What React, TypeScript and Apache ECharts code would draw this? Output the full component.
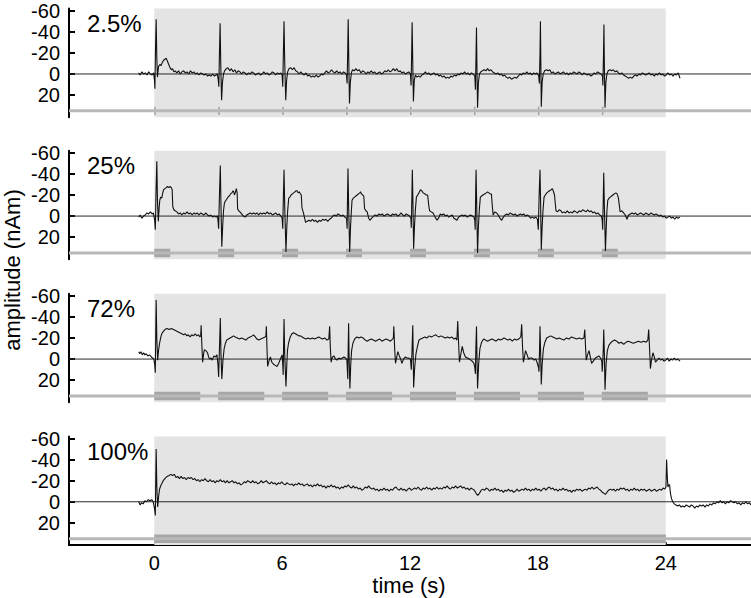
import React, { useEffect, useRef } from 'react';
import * as echarts from 'echarts';

// ---------- data ----------
const panelLabels = ['2.5%', '25%', '72%', '100%'];
const stimOnsets: number[][] = [
  [0, 3, 6, 9, 12, 15, 18, 21],
  [0, 3, 6, 9, 12, 15, 18, 21],
  [0, 3, 6, 9, 12, 15, 18, 21],
  [0],
];
const stimDurations = [0.075, 0.75, 2.16, 24];
const shadeWindow = [0, 24];
const yTickValues = [-60, -40, -20, 0, 20];
const xTickValues = [0, 6, 12, 18, 24];
const timeRange = [-4, 28];
const ampRange = [-62, 41];
const barLevel = 35;
const blockRange = [31, 39];

const trace2p5: [number, number][] = [
  [-0.74,-1],[-0.66,1],[-0.58,-2],[-0.5,0],[-0.42,-1],[-0.34,1],[-0.26,-2],[-0.18,0],[-0.1,1],[-0.03,-1],
  [0.01,6],[0.03,14],[0.06,-25],[0.09,-52],[0.12,-15],[0.15,3],[0.2,-7],[0.26,-9],[0.32,-8],[0.38,-11],[0.44,-13],[0.5,-14],[0.56,-15],[0.62,-12],[0.68,-9],[0.74,-6],[0.8,-4],[0.86,-5],[0.92,-2],[0.98,-3],[1.06,-1],[1.14,-3],[1.22,0],[1.3,-2],[1.38,-3],[1.46,-1],[1.54,-2],[1.62,0],[1.7,-3],[1.78,-1],[1.86,-2],[1.94,0],[2.02,-1],[2.1,1],[2.18,-1],[2.26,0],[2.34,1],[2.42,0],[2.5,2],[2.58,1],[2.66,2],[2.74,0],[2.82,2],[2.9,1],[2.96,0],
  [3.0,5],[3.03,12],[3.06,-20],[3.09,-48],[3.12,-10],[3.16,25],[3.2,8],[3.25,0],[3.3,-3],[3.38,-5],[3.46,-6],[3.54,-3],[3.62,-5],[3.7,-2],[3.78,-4],[3.86,-1],[3.94,-3],[4.02,-2],[4.1,0],[4.18,-2],[4.26,-1],[4.34,1],[4.42,-1],[4.5,0],[4.58,-2],[4.66,-1],[4.74,1],[4.82,0],[4.9,-1],[4.98,1],[5.06,0],[5.14,-2],[5.22,0],[5.3,-1],[5.38,1],[5.46,0],[5.54,-2],[5.62,-1],[5.7,1],[5.78,-1],[5.86,0],[5.94,-1],[6.0,1],
  [6.03,12],[6.06,-22],[6.09,-50],[6.12,-12],[6.17,25],[6.21,6],[6.26,-2],[6.32,-5],[6.4,-6],[6.48,-4],[6.56,-6],[6.64,-3],[6.72,-2],[6.8,0],[6.88,-2],[6.96,0],[7.04,1],[7.12,-1],[7.2,2],[7.28,1],[7.36,3],[7.44,2],[7.52,3],[7.6,1],[7.68,3],[7.76,2],[7.84,0],[7.92,1],[8.0,-1],[8.08,-3],[8.16,-1],[8.24,-2],[8.32,-4],[8.4,-2],[8.48,-1],[8.56,-3],[8.64,-1],[8.72,-2],[8.8,0],[8.88,-2],[8.96,-1],[9.02,1],
  [9.05,9],[9.08,-25],[9.1,-52],[9.13,-10],[9.16,28],[9.2,8],[9.25,-1],[9.3,-4],[9.38,-3],[9.46,-5],[9.54,-3],[9.62,-4],[9.7,-1],[9.78,-3],[9.86,-2],[9.94,0],[10.02,-2],[10.1,-1],[10.18,-3],[10.26,-1],[10.34,-2],[10.42,0],[10.5,-1],[10.58,-2],[10.66,0],[10.74,-1],[10.82,-3],[10.9,-2],[10.98,-4],[11.06,-2],[11.14,-3],[11.22,-5],[11.3,-3],[11.38,-5],[11.46,-2],[11.54,-3],[11.62,-1],[11.7,-2],[11.78,0],[11.86,-1],[11.94,-2],[12.02,0],
  [12.05,11],[12.08,-22],[12.1,-49],[12.13,-10],[12.16,26],[12.2,6],[12.25,1],[12.32,3],[12.4,2],[12.48,3],[12.56,1],[12.64,0],[12.72,-2],[12.8,0],[12.88,-1],[12.96,1],[13.04,0],[13.12,-1],[13.2,1],[13.28,0],[13.36,2],[13.44,1],[13.52,3],[13.6,2],[13.68,4],[13.76,3],[13.84,4],[13.92,2],[14.0,3],[14.08,1],[14.16,2],[14.24,0],[14.32,1],[14.4,-1],[14.48,0],[14.56,-2],[14.64,0],[14.72,-1],[14.8,1],[14.88,-1],[14.96,0],[15.04,2],
  [15.07,15],[15.1,-20],[15.12,-44],[15.14,-8],[15.17,32],[15.21,8],[15.26,0],[15.32,-2],[15.4,-3],[15.48,-4],[15.56,-3],[15.64,-5],[15.72,-3],[15.8,-4],[15.88,-2],[15.96,-1],[16.04,0],[16.12,-1],[16.2,1],[16.28,0],[16.36,2],[16.44,1],[16.52,3],[16.6,4],[16.68,3],[16.76,5],[16.84,4],[16.92,3],[17.0,4],[17.08,2],[17.16,0],[17.24,1],[17.32,-1],[17.4,0],[17.48,-2],[17.56,0],[17.64,-1],[17.72,1],[17.8,-1],[17.88,0],[17.96,-1],[18.04,2],
  [18.07,9],[18.1,-20],[18.12,-50],[18.14,-8],[18.16,31],[18.2,8],[18.25,0],[18.32,-3],[18.4,-4],[18.48,-3],[18.56,-4],[18.64,-1],[18.72,-2],[18.8,0],[18.88,-1],[18.96,-2],[19.04,0],[19.12,-1],[19.2,-2],[19.28,0],[19.36,-1],[19.44,1],[19.52,-1],[19.6,0],[19.68,-2],[19.76,-1],[19.84,0],[19.92,-2],[20.0,-1],[20.08,1],[20.16,-1],[20.24,0],[20.32,1],[20.4,0],[20.48,2],[20.56,1],[20.64,-1],[20.72,0],[20.8,-2],[20.88,-1],[20.96,0],[21.03,2],
  [21.05,11],[21.08,-20],[21.1,-47],[21.12,-8],[21.15,32],[21.19,8],[21.24,0],[21.3,-3],[21.38,-4],[21.46,-3],[21.54,-4],[21.62,-2],[21.7,-3],[21.78,-1],[21.86,0],[21.94,-1],[22.02,1],[22.1,2],[22.18,3],[22.26,4],[22.34,3],[22.42,4],[22.5,2],[22.58,1],[22.66,2],[22.74,0],[22.82,1],[22.9,-1],[22.98,0],[23.06,1],[23.14,0],[23.22,-1],[23.3,1],[23.38,0],[23.46,2],[23.54,0],[23.62,1],[23.7,-1],[23.78,1],[23.86,0],[23.94,2],[24.02,1],[24.1,-1],[24.18,1],[24.26,0],[24.34,2],[24.42,0],[24.5,1],[24.58,-1],[24.67,4],
];

const trace25: [number, number][] = [
  [-0.73,1],[-0.66,-1],[-0.58,2],[-0.5,0],[-0.42,-1],[-0.34,-3],[-0.26,-2],[-0.18,-4],[-0.1,-2],[-0.04,-3],
  [0.02,4],[0.05,13],[0.08,-20],[0.12,-52],[0.15,-15],[0.19,5],[0.23,-8],[0.26,-15],[0.3,-18],[0.35,-17],[0.4,-22],[0.44,-25],[0.5,-26],[0.56,-27],[0.62,-28],[0.68,-27],[0.74,-28],[0.8,-27],[0.84,-25],[0.87,-9],[0.92,-6],[0.98,-5],[1.06,-4],[1.14,-2],[1.22,-3],[1.3,-1],[1.38,-3],[1.46,-2],[1.54,-4],[1.62,-2],[1.7,-3],[1.78,-1],[1.86,-3],[1.94,-2],[2.02,-3],[2.1,-1],[2.18,-3],[2.26,-2],[2.34,-1],[2.42,-3],[2.5,-1],[2.58,0],[2.66,-1],[2.74,1],[2.82,0],[2.9,1],[2.97,0],
  [3.0,6],[3.02,12],[3.06,-20],[3.1,-48],[3.13,-10],[3.17,29],[3.21,10],[3.25,-5],[3.29,-12],[3.33,-14],[3.4,-16],[3.46,-18],[3.52,-19],[3.58,-21],[3.64,-22],[3.7,-24],[3.73,-23],[3.76,-20],[3.8,-22],[3.85,-26],[3.89,-22],[3.91,-7],[3.96,-5],[4.02,-4],[4.1,-2],[4.18,0],[4.27,1],[4.34,-1],[4.42,-2],[4.5,-3],[4.58,-2],[4.66,-3],[4.74,-2],[4.82,-3],[4.9,-1],[4.98,-3],[5.06,-2],[5.14,-3],[5.22,-2],[5.3,-4],[5.38,-2],[5.46,-3],[5.54,-1],[5.62,-2],[5.7,-3],[5.78,-1],[5.86,-2],[5.94,0],[6.0,2],
  [6.03,12],[6.06,-20],[6.09,-44],[6.12,-10],[6.18,34],[6.22,10],[6.26,-5],[6.31,-17],[6.36,-18],[6.42,-20],[6.48,-21],[6.54,-22],[6.6,-23],[6.66,-24],[6.7,-24],[6.75,-22],[6.8,-23],[6.86,-21],[6.9,-20],[6.93,-8],[7.0,-3],[7.1,6],[7.18,5],[7.26,4],[7.34,5],[7.42,3],[7.5,5],[7.58,4],[7.66,6],[7.74,4],[7.82,5],[7.9,3],[7.98,4],[8.06,3],[8.14,5],[8.22,3],[8.3,2],[8.38,0],[8.46,-1],[8.54,0],[8.62,-2],[8.7,-1],[8.78,0],[8.86,-1],[8.94,1],[9.02,2],
  [9.05,12],[9.07,-20],[9.09,-45],[9.12,-10],[9.17,34],[9.21,10],[9.25,-5],[9.28,-15],[9.34,-17],[9.4,-18],[9.46,-19],[9.52,-20],[9.58,-21],[9.64,-22],[9.68,-23],[9.72,-21],[9.78,-20],[9.83,-19],[9.87,-7],[9.93,-5],[9.99,-4],[10.06,2],[10.12,4],[10.2,2],[10.3,0],[10.38,-1],[10.46,0],[10.54,-2],[10.62,-1],[10.7,-2],[10.78,0],[10.86,-1],[10.94,-2],[11.02,-1],[11.1,0],[11.18,-2],[11.26,-1],[11.34,-2],[11.42,0],[11.5,-1],[11.58,-3],[11.66,-1],[11.74,0],[11.82,-2],[11.9,-1],[11.98,0],[12.04,2],
  [12.06,11],[12.09,-20],[12.11,-44],[12.14,-10],[12.17,31],[12.21,10],[12.25,-5],[12.3,-18],[12.36,-20],[12.42,-22],[12.49,-25],[12.55,-24],[12.62,-22],[12.7,-21],[12.76,-20],[12.83,-20],[12.88,-10],[12.92,-5],[13.0,-4],[13.08,-3],[13.18,1],[13.27,4],[13.34,2],[13.42,-2],[13.5,-1],[13.58,-2],[13.66,0],[13.74,-1],[13.82,1],[13.9,0],[13.98,-1],[14.06,2],[14.14,3],[14.2,4],[14.28,1],[14.36,0],[14.44,-1],[14.52,0],[14.6,-1],[14.68,1],[14.76,0],[14.84,-1],[14.92,0],[15.0,1],[15.04,4],
  [15.06,13],[15.08,-20],[15.1,-44],[15.13,-10],[15.17,35],[15.21,10],[15.25,-5],[15.3,-18],[15.36,-19],[15.42,-20],[15.5,-21],[15.58,-22],[15.64,-23],[15.7,-22],[15.76,-21],[15.82,-21],[15.86,-10],[15.9,-1],[15.98,-4],[16.06,-3],[16.14,-1],[16.22,2],[16.3,4],[16.38,1],[16.46,-1],[16.54,-2],[16.62,-1],[16.7,-3],[16.78,-2],[16.86,-1],[16.94,-2],[17.02,0],[17.1,-1],[17.18,-2],[17.26,-1],[17.34,-2],[17.42,0],[17.5,-1],[17.58,0],[17.66,2],[17.74,1],[17.82,2],[17.9,1],[17.98,3],
  [18.02,13],[18.06,-20],[18.1,-44],[18.13,-10],[18.16,32],[18.2,10],[18.24,-5],[18.29,-18],[18.35,-20],[18.42,-22],[18.48,-23],[18.55,-24],[18.62,-25],[18.68,-26],[18.72,-24],[18.78,-20],[18.85,-5],[18.92,-4],[19.0,-6],[19.08,-5],[19.15,-3],[19.22,-4],[19.3,-3],[19.38,-5],[19.46,-3],[19.54,-4],[19.62,-3],[19.7,-5],[19.78,-4],[19.86,-3],[19.94,-5],[20.02,-4],[20.1,-6],[20.18,-5],[20.26,-4],[20.34,-6],[20.42,-4],[20.5,-5],[20.58,-3],[20.66,-4],[20.74,-2],[20.82,-3],[20.9,-1],[20.98,0],[21.02,4],
  [21.04,13],[21.07,-18],[21.09,-41],[21.12,-10],[21.17,33],[21.21,10],[21.24,-5],[21.28,-15],[21.34,-17],[21.4,-18],[21.46,-19],[21.52,-20],[21.58,-21],[21.66,-22],[21.72,-21],[21.78,-17],[21.86,-4],[21.94,-5],[22.02,-3],[22.1,-1],[22.18,3],[22.26,-1],[22.34,-2],[22.42,-3],[22.5,-2],[22.58,-3],[22.66,-1],[22.74,-2],[22.82,-3],[22.9,-2],[22.98,-1],[23.06,-3],[23.14,-2],[23.22,-1],[23.3,-3],[23.38,-2],[23.46,-1],[23.54,-2],[23.62,-1],[23.7,0],[23.78,-1],[23.86,1],[23.94,0],[24.02,2],[24.1,1],[24.18,0],[24.26,2],[24.34,1],[24.42,3],[24.5,1],[24.58,2],[24.67,1],
];

const trace72: [number, number][] = [
  [-0.73,-7],[-0.68,-5],[-0.62,-7],[-0.56,-4],[-0.5,-6],[-0.44,-4],[-0.38,-5],[-0.3,-3],[-0.22,-4],[-0.14,-2],[-0.08,-1],[-0.02,0],
  [0.02,5],[0.05,13],[0.07,-25],[0.09,-56],[0.12,-20],[0.16,1],[0.2,-8],[0.25,-15],[0.3,-20],[0.35,-24],[0.42,-26],[0.5,-28],[0.6,-29],[0.7,-28],[0.8,-29],[0.9,-28],[1.0,-27],[1.1,-26],[1.2,-25],[1.29,-24],[1.38,-23],[1.46,-24],[1.53,-22],[1.6,-23],[1.68,-21],[1.76,-23],[1.84,-22],[1.92,-24],[2.0,-22],[2.08,-23],[2.14,-21],[2.18,-22],[2.2,-32],[2.23,-15],[2.27,3],[2.31,-4],[2.35,-9],[2.42,-8],[2.5,-6],[2.55,-2],[2.6,0],[2.66,-1],[2.72,1],[2.8,-3],[2.88,-2],[2.94,-4],
  [2.99,5],[3.02,17],[3.06,-10],[3.1,-39],[3.13,-5],[3.17,19],[3.22,2],[3.28,-10],[3.34,-15],[3.4,-18],[3.48,-19],[3.56,-20],[3.64,-21],[3.72,-22],[3.8,-21],[3.9,-20],[4.0,-19],[4.1,-20],[4.2,-19],[4.3,-18],[4.4,-20],[4.5,-21],[4.6,-22],[4.66,-23],[4.74,-21],[4.82,-19],[4.9,-18],[5.0,-19],[5.1,-20],[5.2,-21],[5.24,-22],[5.26,-31],[5.29,-10],[5.32,7],[5.38,2],[5.45,-2],[5.52,3],[5.6,5],[5.68,6],[5.76,7],[5.84,4],[5.92,0],[6.0,-4],
  [6.03,5],[6.05,15],[6.07,-15],[6.09,-38],[6.12,-5],[6.18,26],[6.22,5],[6.25,-8],[6.3,-15],[6.38,-21],[6.46,-24],[6.54,-25],[6.62,-24],[6.7,-23],[6.78,-22],[6.86,-22],[6.94,-21],[7.02,-20],[7.12,-19],[7.22,-20],[7.32,-19],[7.42,-20],[7.52,-19],[7.62,-20],[7.72,-21],[7.8,-20],[7.9,-19],[8.0,-20],[8.1,-18],[8.19,-19],[8.23,-31],[8.26,-12],[8.3,3],[8.36,-2],[8.44,-3],[8.5,0],[8.58,1],[8.66,-1],[8.74,0],[8.82,-1],[8.9,-2],[8.98,-1],[9.04,1],
  [9.06,10],[9.08,19],[9.1,-10],[9.12,-34],[9.14,-5],[9.18,28],[9.22,5],[9.26,-8],[9.32,-15],[9.38,-18],[9.44,-20],[9.52,-21],[9.6,-20],[9.7,-21],[9.8,-20],[9.9,-18],[9.99,-17],[10.08,-18],[10.18,-19],[10.28,-18],[10.38,-17],[10.48,-18],[10.58,-19],[10.68,-17],[10.78,-18],[10.88,-19],[10.98,-18],[11.08,-17],[11.18,-19],[11.22,-20],[11.24,-31],[11.28,-10],[11.32,4],[11.38,-2],[11.43,-7],[11.5,-3],[11.56,0],[11.62,4],[11.7,0],[11.78,-2],[11.86,-1],[11.93,-1],[12.02,0],
  [12.06,10],[12.09,-5],[12.13,-32],[12.15,-5],[12.17,27],[12.22,8],[12.28,-5],[12.35,-12],[12.42,-18],[12.5,-19],[12.6,-20],[12.7,-21],[12.8,-20],[12.9,-22],[13.0,-21],[13.1,-22],[13.2,-23],[13.27,-22],[13.36,-21],[13.46,-22],[13.56,-21],[13.66,-20],[13.76,-21],[13.86,-20],[13.96,-21],[14.06,-19],[14.14,-20],[14.2,-18],[14.24,-36],[14.28,-15],[14.32,3],[14.38,-4],[14.45,-12],[14.52,-6],[14.6,-2],[14.7,-1],[14.78,0],[14.85,1],[14.92,2],[15.0,4],
  [15.04,8],[15.07,14],[15.09,-10],[15.12,-31],[15.14,-5],[15.17,28],[15.22,5],[15.28,-10],[15.36,-16],[15.45,-19],[15.54,-18],[15.64,-17],[15.74,-18],[15.84,-19],[15.94,-18],[16.04,-17],[16.14,-19],[16.24,-18],[16.34,-19],[16.41,-20],[16.5,-19],[16.6,-18],[16.7,-19],[16.8,-17],[16.9,-19],[17.0,-18],[17.1,-19],[17.2,-21],[17.24,-33],[17.28,-12],[17.32,3],[17.38,-3],[17.42,-8],[17.5,-4],[17.56,0],[17.64,-1],[17.73,-1],[17.82,1],[17.9,0],[17.96,3],
  [18.03,8],[18.05,12],[18.08,-10],[18.1,-31],[18.13,-5],[18.16,24],[18.2,5],[18.26,-10],[18.33,-16],[18.41,-20],[18.5,-21],[18.6,-22],[18.7,-21],[18.8,-20],[18.9,-19],[19.0,-20],[19.1,-19],[19.22,-18],[19.34,-20],[19.46,-19],[19.58,-21],[19.7,-20],[19.82,-19],[19.94,-20],[20.06,-19],[20.16,-20],[20.2,-28],[20.24,-10],[20.27,1],[20.33,-4],[20.4,-8],[20.46,-2],[20.52,4],[20.6,2],[20.7,-1],[20.78,-2],[20.86,-3],[20.94,-1],[21.0,2],
  [21.02,12],[21.04,5],[21.07,-10],[21.09,-28],[21.12,-5],[21.15,29],[21.2,5],[21.26,-8],[21.33,-13],[21.4,-15],[21.5,-17],[21.6,-18],[21.7,-17],[21.8,-15],[21.9,-16],[22.03,-14],[22.14,-16],[22.24,-17],[22.36,-16],[22.48,-15],[22.6,-16],[22.72,-17],[22.84,-16],[22.97,-17],[23.08,-16],[23.16,-18],[23.2,-28],[23.24,-10],[23.28,9],[23.33,1],[23.4,-6],[23.46,-2],[23.52,3],[23.6,1],[23.68,-1],[23.76,1],[23.84,0],[23.92,2],[24.0,1],[24.08,-1],[24.16,2],[24.24,0],[24.32,1],[24.4,-1],[24.48,1],[24.56,0],[24.67,2],
];

const trace100: [number, number][] = [
  [-0.73,0],[-0.66,3],[-0.6,1],[-0.52,2],[-0.44,-1],[-0.36,0],[-0.28,-2],[-0.2,-1],[-0.12,-2],[-0.05,0],
  [0.01,6],[0.05,13],[0.07,-20],[0.09,-50],[0.12,-15],[0.16,5],[0.2,-4],[0.25,-12],[0.3,-15],[0.35,-17],[0.42,-20],[0.5,-22],[0.6,-24],[0.7,-25],[0.78,-26],[0.86,-25],[0.94,-26],[1.02,-23],[1.1,-24],[1.18,-22],[1.26,-24],[1.34,-22],[1.42,-23],[1.5,-21],[1.58,-23],[1.66,-22],[1.74,-23],[1.82,-21],[1.9,-22],[1.98,-20],[2.06,-21],[2.14,-19],[2.22,-21],[2.3,-20],[2.38,-22],[2.46,-20],[2.54,-19],[2.62,-21],[2.7,-19],[2.78,-20],[2.86,-18],[2.94,-20],
  [3.02,-19],[3.1,-21],[3.18,-19],[3.26,-20],[3.34,-18],[3.42,-20],[3.5,-18],[3.58,-19],[3.66,-20],[3.74,-18],[3.82,-19],[3.9,-17],[3.98,-18],[4.06,-16],[4.14,-17],[4.22,-19],[4.3,-18],[4.38,-20],[4.46,-19],[4.54,-18],[4.62,-20],[4.7,-18],[4.78,-19],[4.86,-17],[4.94,-18],[5.02,-20],[5.1,-18],[5.18,-19],[5.26,-20],[5.34,-18],[5.42,-17],[5.5,-19],[5.58,-17],[5.66,-18],[5.74,-16],[5.82,-18],[5.9,-17],[5.98,-19],
  [6.06,-17],[6.14,-16],[6.22,-18],[6.3,-17],[6.38,-16],[6.46,-17],[6.54,-15],[6.62,-17],[6.7,-16],[6.78,-18],[6.86,-16],[6.94,-17],[7.02,-15],[7.1,-16],[7.18,-17],[7.26,-15],[7.34,-16],[7.42,-14],[7.5,-16],[7.58,-15],[7.66,-17],[7.74,-15],[7.82,-16],[7.9,-14],[7.98,-15],[8.06,-13],[8.14,-15],[8.22,-14],[8.3,-16],[8.38,-14],[8.46,-15],[8.54,-13],[8.62,-14],[8.7,-12],[8.78,-14],[8.86,-13],[8.94,-15],
  [9.02,-14],[9.1,-16],[9.18,-14],[9.26,-13],[9.34,-15],[9.42,-13],[9.5,-14],[9.58,-12],[9.66,-13],[9.74,-11],[9.82,-12],[9.9,-14],[9.98,-13],[10.06,-15],[10.14,-13],[10.22,-12],[10.3,-13],[10.38,-11],[10.46,-12],[10.54,-10],[10.62,-12],[10.7,-11],[10.78,-13],[10.86,-11],[10.94,-12],[11.02,-10],[11.1,-12],[11.18,-11],[11.26,-13],[11.34,-14],[11.42,-12],[11.5,-11],[11.58,-13],[11.66,-11],[11.74,-12],[11.82,-10],[11.9,-12],[11.98,-13],
  [12.06,-11],[12.14,-12],[12.22,-13],[12.3,-12],[12.38,-14],[12.46,-12],[12.54,-11],[12.62,-13],[12.7,-12],[12.78,-14],[12.86,-12],[12.94,-13],[13.02,-11],[13.1,-13],[13.18,-12],[13.26,-14],[13.34,-12],[13.42,-13],[13.5,-12],[13.58,-14],[13.66,-13],[13.74,-15],[13.82,-13],[13.9,-12],[13.98,-14],[14.06,-13],[14.14,-15],[14.22,-13],[14.3,-14],[14.38,-15],[14.46,-13],[14.54,-14],[14.62,-12],[14.7,-13],[14.78,-11],[14.86,-13],[14.94,-12],
  [15.02,-11],[15.1,-8],[15.18,-6],[15.26,-8],[15.34,-11],[15.42,-12],[15.5,-11],[15.58,-13],[15.66,-12],[15.74,-10],[15.82,-12],[15.9,-11],[15.98,-13],[16.06,-11],[16.14,-12],[16.22,-10],[16.3,-11],[16.38,-9],[16.46,-11],[16.54,-10],[16.62,-12],[16.7,-10],[16.78,-11],[16.86,-9],[16.94,-10],[17.02,-12],[17.1,-10],[17.18,-11],[17.26,-12],[17.34,-11],[17.42,-13],[17.5,-11],[17.58,-12],[17.66,-10],[17.74,-12],[17.82,-11],[17.9,-13],[17.98,-11],
  [18.06,-12],[18.14,-10],[18.22,-12],[18.3,-13],[18.38,-11],[18.46,-13],[18.54,-14],[18.62,-12],[18.7,-13],[18.78,-11],[18.86,-12],[18.94,-10],[19.02,-12],[19.1,-11],[19.18,-13],[19.26,-11],[19.34,-12],[19.42,-10],[19.5,-11],[19.58,-9],[19.66,-11],[19.74,-10],[19.82,-12],[19.9,-11],[19.98,-12],[20.06,-10],[20.14,-11],[20.22,-12],[20.3,-11],[20.38,-13],[20.46,-12],[20.54,-14],[20.62,-12],[20.7,-13],[20.78,-14],[20.86,-12],[20.94,-11],
  [21.02,-9],[21.1,-8],[21.17,-7],[21.24,-9],[21.32,-11],[21.4,-12],[21.48,-11],[21.56,-12],[21.64,-10],[21.72,-12],[21.8,-11],[21.88,-13],[21.96,-12],[22.04,-13],[22.12,-11],[22.2,-12],[22.28,-10],[22.36,-12],[22.44,-11],[22.52,-13],[22.6,-11],[22.68,-12],[22.76,-10],[22.84,-12],[22.92,-11],[23.0,-12],[23.08,-10],[23.16,-11],[23.24,-12],[23.32,-10],[23.4,-11],[23.48,-12],[23.56,-10],[23.64,-11],[23.72,-12],[23.8,-11],[23.88,-13],[23.96,-12],
  [24.01,-14],[24.04,-40],[24.07,-25],[24.1,-14],[24.14,-16],[24.18,-16],[24.22,-8],[24.27,-3],[24.33,0],[24.4,2],[24.48,3],[24.56,4],[24.64,3],[24.72,5],[24.8,4],[24.88,5],[24.96,3],[25.04,4],[25.12,5],[25.2,3],[25.28,4],[25.36,6],[25.44,4],[25.52,5],[25.6,3],[25.68,4],[25.76,3],[25.84,5],[25.92,3],[26.0,4],[26.08,2],[26.16,3],[26.24,1],[26.32,2],[26.4,0],[26.48,1],[26.56,-1],[26.64,1],[26.72,0],[26.8,2],[26.88,0],[26.96,1],[27.04,-1],[27.12,0],[27.2,1],[27.28,0],[27.36,2],[27.44,1],[27.52,3],[27.6,1],[27.68,2],[27.76,0],[27.84,2],[27.92,1],[28.0,3],
];

const traces = [trace2p5, trace25, trace72, trace100];

// ---------- layout ----------
const FONT = "'Liberation Sans', Arial, Helvetica, sans-serif";
const GRID_LEFT = 69;
const GRID_WIDTH = 682;
const GRID_TOPS = [8.6, 150.7, 293.7, 436.4];
const GRID_HEIGHT = 108.6;

export default function App() {
  const ref = useRef<HTMLDivElement>(null);

  useEffect(() => {
    if (!ref.current) return;
    const chart = echarts.init(ref.current, undefined, { renderer: 'svg' });

    const grids: any[] = [];
    const xAxes: any[] = [];
    const yAxes: any[] = [];
    const series: any[] = [];
    const graphics: any[] = [];

    traces.forEach((trace, i) => {
      const last = i === traces.length - 1;
      grids.push({
        left: GRID_LEFT,
        top: GRID_TOPS[i],
        width: GRID_WIDTH,
        height: GRID_HEIGHT,
        containLabel: false,
        outerBoundsMode: 'none',
      });
      xAxes.push({
        gridIndex: i,
        type: 'value',
        min: timeRange[0],
        max: timeRange[1],
        show: last,
        axisLine: { show: true, onZero: false, lineStyle: { color: '#000', width: 2 } },
        axisTick: { show: true, inside: true, length: 3, customValues: xTickValues, lineStyle: { color: '#000', width: 1.5 } },
        axisLabel: { show: true, customValues: xTickValues, fontSize: 20, lineHeight: 16, fontFamily: FONT, color: '#000', margin: 10 },
        splitLine: { show: false },
      });
      yAxes.push({
        gridIndex: i,
        type: 'value',
        inverse: true,
        min: ampRange[0],
        max: ampRange[1],
        axisLine: { show: true, onZero: false, lineStyle: { color: '#000', width: 2 } },
        axisTick: { show: true, inside: true, length: 6, customValues: yTickValues, lineStyle: { color: '#000', width: 2 } },
        axisLabel: { show: true, customValues: yTickValues, fontSize: 20, lineHeight: 16, fontFamily: FONT, color: '#000', margin: 9 },
        splitLine: { show: false },
      });

      // shaded stimulation window
      series.push({
        type: 'line',
        xAxisIndex: i,
        yAxisIndex: i,
        data: [],
        silent: true,
        z: 1,
        markArea: {
          silent: true,
          itemStyle: { color: '#e4e4e4' },
          data: [[{ xAxis: shadeWindow[0] }, { xAxis: shadeWindow[1] }]],
        },
      });
      // zero line
      series.push({
        type: 'line',
        xAxisIndex: i,
        yAxisIndex: i,
        data: [[timeRange[0], 0], [timeRange[1], 0]],
        symbol: 'none',
        silent: true,
        z: 2,
        lineStyle: { color: '#2a2a2a', width: 1 },
      });
      // stimulus timeline bar
      series.push({
        type: 'line',
        xAxisIndex: i,
        yAxisIndex: i,
        data: [[timeRange[0], barLevel], [timeRange[1], barLevel]],
        symbol: 'none',
        silent: true,
        z: 2,
        lineStyle: { color: '#b8b8b8', width: 3 },
      });
      // stimulus blocks
      series.push({
        type: 'line',
        xAxisIndex: i,
        yAxisIndex: i,
        data: [],
        silent: true,
        z: 3,
        markArea: {
          silent: true,
          itemStyle: { color: '#a6a6a6' },
          data: stimOnsets[i].map((on) => [
            { xAxis: on, yAxis: blockRange[0] },
            { xAxis: on + stimDurations[i], yAxis: blockRange[1] },
          ]),
        },
      });
      // recorded trace
      series.push({
        type: 'line',
        xAxisIndex: i,
        yAxisIndex: i,
        data: trace,
        symbol: 'none',
        silent: true,
        z: 4,
        lineStyle: { color: '#111', width: 1.1 },
      });

      graphics.push({
        type: 'text',
        x: 87,
        y: GRID_TOPS[i] + 15,
        style: {
          text: panelLabels[i],
          fontSize: 24,
          fontFamily: FONT,
          fill: '#000',
          textAlign: 'left',
          textVerticalAlign: 'middle',
        },
      });
    });

    graphics.push({
      type: 'text',
      x: 12,
      y: 270,
      rotation: Math.PI / 2,
      style: {
        text: 'amplitude (nAm)',
        fontSize: 22,
        fontFamily: FONT,
        fill: '#000',
        textAlign: 'center',
        textVerticalAlign: 'middle',
      },
    });
    graphics.push({
      type: 'text',
      x: 409,
      y: 585,
      style: {
        text: 'time (s)',
        fontSize: 22,
        fontFamily: FONT,
        fill: '#000',
        textAlign: 'center',
        textVerticalAlign: 'middle',
      },
    });

    chart.setOption({
      animation: false,
      backgroundColor: '#fff',
      grid: grids,
      xAxis: xAxes,
      yAxis: yAxes,
      series,
      graphic: graphics,
    });

    return () => chart.dispose();
  }, []);

  return (
    <div
      ref={ref}
      style={{ position: 'absolute', left: 0, top: 0, width: 751, height: 598 }}
    />
  );
}
